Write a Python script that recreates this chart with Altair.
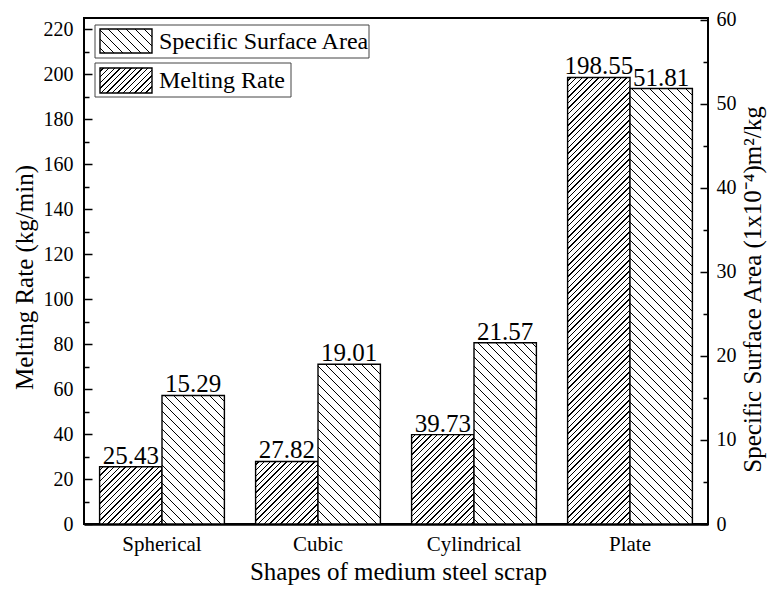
import altair as alt

# ---------------- data ----------------
shapes = ["Spherical", "Cubic", "Cylindrical", "Plate"]
melting_rate = [25.43, 27.82, 39.73, 198.55]          # kg/min (left axis)
surface_area = [15.29, 19.01, 21.57, 51.81]           # 1e-4 m2/kg (right axis)
series_names = ["Melting Rate", "Specific Surface Area"]
left_major = [0, 20, 40, 60, 80, 100, 120, 140, 160, 180, 200, 220]
left_minor = [10, 30, 50, 70, 90, 110, 130, 150, 170, 190, 210]
right_major = [0, 10, 20, 30, 40, 50, 60]
right_minor = [5, 15, 25, 35, 45, 55]

# ---------------- layout constants ----------------
W, H = 624, 506
LEFT_MAX = 225.0
RIGHT_MAX = 60.2
FONT = "Liberation Serif, Times New Roman, serif"
BAR_W = W / 4 * 0.8 / 2


def hatch(w, h, spacing, lw, kind):
    """Striped linear gradient giving 45-degree hatching on a w x h box."""
    L = w + h
    stops = [{"offset": 0, "color": "white"}]
    pos = spacing * 0.5
    while pos + lw < L:
        a = round(pos / L, 5)
        b = round((pos + lw) / L, 5)
        stops += [
            {"offset": a, "color": "white"},
            {"offset": a, "color": "black"},
            {"offset": b, "color": "black"},
            {"offset": b, "color": "white"},
        ]
        pos += spacing
    stops.append({"offset": 1, "color": "white"})
    c = (1 / h + 1 / w) / (1 / h ** 2 + 1 / w ** 2)
    if kind == "/":
        x1, y1, x2, y2 = 0, 0, c / h, c / w
    else:
        x1, y1, x2, y2 = 0, 1, c / h, 1 - c / w
    return {"gradient": "linear", "x1": x1, "y1": y1, "x2": x2, "y2": y2, "stops": stops}


MR_SP, SSA_SP, LW = 5.6, 9.0, 1.4

records = []
for s, mr, sa in zip(shapes, melting_rate, surface_area):
    records.append({"shape": s, "series": series_names[0], "value": mr,
                    "grad": hatch(BAR_W, mr * H / LEFT_MAX, MR_SP, LW, "/")})
    records.append({"shape": s, "series": series_names[1], "value": sa,
                    "grad": hatch(BAR_W, sa * H / RIGHT_MAX, SSA_SP, LW, "\\")})

data = alt.Data(values=records)
base = alt.Chart(data)

x_enc = alt.X(
    "shape:N", sort=shapes,
    scale=alt.Scale(domain=shapes, paddingInner=0.2, paddingOuter=0.1),
    axis=alt.Axis(title="Shapes of medium steel scrap", labelAngle=0, ticks=False,
                  tickSize=0, labelPadding=9, labelFontSize=21, labelFont=FONT,
                  titleFontSize=25, titleFont=FONT, titleX=314, titleY=55,
                  titleBaseline="alphabetic", titleAlign="center",
                  domainWidth=2.5, domainColor="black"),
)
xo_enc = alt.XOffset("series:N", scale=alt.Scale(domain=series_names, paddingInner=0, paddingOuter=0))

left_scale = alt.Scale(domain=[0, LEFT_MAX], nice=False, zero=True)
right_scale = alt.Scale(domain=[0, RIGHT_MAX], nice=False, zero=True)

mr_filter = alt.datum.series == series_names[0]
sa_filter = alt.datum.series == series_names[1]

mr_bars = base.transform_filter(mr_filter).mark_bar(stroke="black", strokeWidth=1.4).encode(
    x=x_enc, xOffset=xo_enc,
    y=alt.Y("value:Q", scale=left_scale,
            axis=alt.Axis(orient="left", values=left_major, offset=-8, tickSize=8, tickWidth=1.5,
                          tickColor="black", domain=False, grid=False, labelPadding=11,
                          labelFontSize=20, labelFont=FONT, labelFlush=False, labelOverlap=False,
                          title="Melting Rate (kg/min)", titleFontSize=25, titleFont=FONT,
                          titleAngle=270, titleX=-68, titleY=259, titleBaseline="middle",
                          titleAlign="center")),
    fill=alt.Fill("grad:N", scale=None),
)

sa_bars = base.transform_filter(sa_filter).mark_bar(stroke="black", strokeWidth=1.4).encode(
    x=x_enc, xOffset=xo_enc,
    y=alt.Y("value:Q", scale=right_scale,
            axis=alt.Axis(orient="right", values=right_major, offset=-8, tickSize=8, tickWidth=1.5,
                          tickColor="black", domain=False, grid=False, labelPadding=8,
                          labelFontSize=20, labelFont=FONT, labelFlush=False, labelOverlap=False,
                          title="Specific Surface Area (1x10\u207b\u2074)m\u00b2/kg", titleFontSize=25,
                          titleFont=FONT, titleAngle=270, titleX=52, titleY=271,
                          titleBaseline="middle", titleAlign="center")),
    fill=alt.Fill("grad:N", scale=None),
)

mr_text = base.transform_filter(mr_filter).mark_text(
    baseline="alphabetic", dy=-3, font=FONT, fontSize=25, color="black"
).encode(
    x=x_enc, xOffset=xo_enc,
    y=alt.Y("value:Q", scale=left_scale, axis=None),
    text=alt.Text("value:Q", format=".2f"),
)

sa_text = base.transform_filter(sa_filter).mark_text(
    baseline="alphabetic", dy=-3, font=FONT, fontSize=25, color="black"
).encode(
    x=x_enc, xOffset=xo_enc,
    y=alt.Y("value:Q", scale=right_scale, axis=None),
    text=alt.Text("value:Q", format=".2f"),
)

left_minor_ticks = base.transform_filter(mr_filter).mark_point(opacity=0).encode(
    y=alt.Y("value:Q", scale=left_scale,
            axis=alt.Axis(orient="left", values=left_minor, offset=-5, tickSize=5, tickWidth=1.5,
                          tickColor="black", domain=False, grid=False, labels=False, title=None)),
)
right_minor_ticks = base.transform_filter(sa_filter).mark_point(opacity=0).encode(
    y=alt.Y("value:Q", scale=right_scale,
            axis=alt.Axis(orient="right", values=right_minor, offset=-5, tickSize=5, tickWidth=1.5,
                          tickColor="black", domain=False, grid=False, labels=False, title=None)),
)

# ---------------- legend (manual, two framed entries) ----------------
one = alt.Data(values=[{"k": 1}])
lg = alt.Chart(one)
box1 = lg.mark_rect(fill="white", stroke="#444", strokeWidth=1).encode(
    x=alt.value(11), x2=alt.value(285), y=alt.value(7), y2=alt.value(40))
box2 = lg.mark_rect(fill="white", stroke="#444", strokeWidth=1).encode(
    x=alt.value(11), x2=alt.value(207), y=alt.value(45), y2=alt.value(79))
sw1 = lg.mark_rect(fill=hatch(52, 24, SSA_SP, LW, "\\"), stroke="black", strokeWidth=1.4).encode(
    x=alt.value(16), x2=alt.value(68), y=alt.value(11), y2=alt.value(35))
sw2 = lg.mark_rect(fill=hatch(52, 25, MR_SP, LW, "/"), stroke="black", strokeWidth=1.4).encode(
    x=alt.value(16), x2=alt.value(68), y=alt.value(50), y2=alt.value(75))
t1 = lg.mark_text(align="left", baseline="middle", font=FONT, fontSize=24, color="black").encode(
    x=alt.value(75), y=alt.value(24), text=alt.value(series_names[1]))
t2 = lg.mark_text(align="left", baseline="middle", font=FONT, fontSize=24, color="black").encode(
    x=alt.value(75), y=alt.value(63), text=alt.value(series_names[0]))

chart = alt.layer(
    mr_bars, sa_bars, mr_text, sa_text, left_minor_ticks, right_minor_ticks,
    box1, box2, sw1, sw2, t1, t2,
).resolve_scale(y="independent").properties(
    width=W, height=H,
    autosize=alt.AutoSizeParams(type="none"),
    padding={"left": 76, "top": 10, "right": 62, "bottom": 62},
).configure(
    font=FONT
).configure_view(
    stroke="black", strokeWidth=2
).configure_axis(
    labelColor="black", titleColor="black", titleFontWeight="normal", grid=False,
    labelFont=FONT, titleFont=FONT,
)

chart.save("out.html", embed_options={"renderer": "svg", "actions": False})
